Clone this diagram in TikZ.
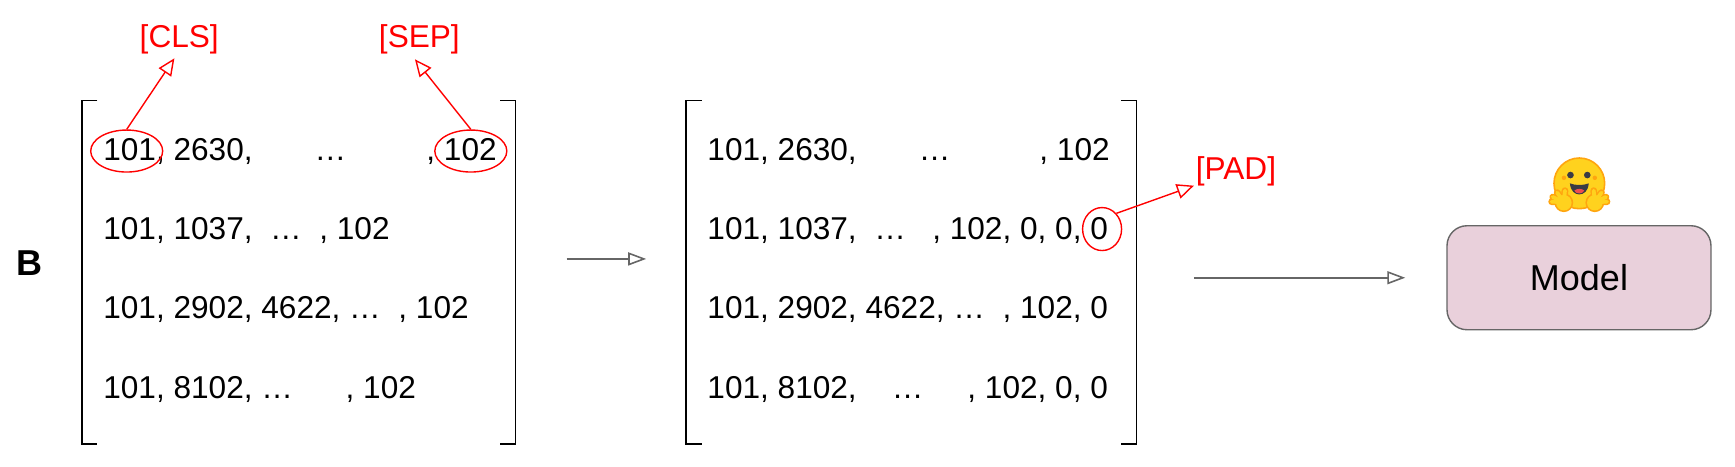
\documentclass[tikz,border=0pt]{standalone}
\usepackage{fontspec}
\setmainfont{Liberation Sans}
\usepackage{xcolor}
\usepackage{tikz}
\usetikzlibrary{positioning,arrows.meta,shapes.geometric}
\definecolor{modelfill}{HTML}{E9D0DB}
\definecolor{linegray}{HTML}{666666}
\definecolor{hugyellow}{HTML}{FFD21E}
\definecolor{hugorange}{HTML}{FFA50F}
\definecolor{hugdark}{HTML}{3A3B45}
\definecolor{hugtongue}{HTML}{EF4E4E}
\tikzset{
  rowlabel/.style={anchor=base west,inner sep=0pt,font=\fontsize{15.8pt}{18pt}\selectfont},
  redlabel/.style={red,anchor=base,inner sep=0pt,font=\fontsize{15.8pt}{18pt}\selectfont},
  redring/.style={draw=red,ellipse,inner sep=0pt,line width=0.7pt},
  redarrow/.style={draw=red,line width=0.7pt,-{Triangle[open,length=8.5pt,width=7.5pt]}},
  grayarrow/.style={draw=linegray,line width=0.8pt,-{Triangle[open,length=9pt,width=6.5pt]}},
  bracketline/.style={black,line width=0.8pt}
}
\begin{document}
\begin{tikzpicture}[x=0.5533pt,y=-0.5533pt]
\useasboundingbox (0,0) rectangle (1568,422);
\node[anchor=base west,inner sep=0pt,font=\fontsize{18pt}{20pt}\selectfont\bfseries] (panel) at (15,249) {B};
% left matrix
\draw[bracketline] (88,91) -- (74,91) -- (74,401) -- (88,401);
\draw[bracketline] (452,91) -- (466,91) -- (466,401) -- (452,401);
\node[rowlabel] (a1) at (93,145) {101, 2630,};
\node[rowlabel] (a1dots) at (284,145) {…};
\node[rowlabel] (a1end) at (385,145) {, 102};
\node[rowlabel] (a2) at (93,216) {101, 1037,\ \ …\ \ , 102};
\node[rowlabel] (a3) at (93,288) {101, 2902, 4622, …\ \ , 102};
\node[rowlabel] (a4) at (93,360) {101, 8102, …\ \ \ \ \ \ , 102};
% right matrix
\draw[bracketline] (634,91) -- (620,91) -- (620,401) -- (634,401);
\draw[bracketline] (1013,91) -- (1027,91) -- (1027,401) -- (1013,401);
\node[rowlabel] (b1) at (639,145) {101, 2630,};
\node[rowlabel] (b1dots) at (830,145) {…};
\node[rowlabel] (b1end) at (939,145) {, 102};
\node[rowlabel] (b2) at (639,216) {101, 1037,\ \ …\ \ \ , 102, 0, 0, 0};
\node[rowlabel] (b3) at (639,288) {101, 2902, 4622, …\ \ , 102, 0};
\node[rowlabel] (b4) at (639,360) {101, 8102,\ \ \ \ …\ \ \ \ \ , 102, 0, 0};
% red marks
\node[redring,minimum width=36pt,minimum height=21pt] (cls) at (114.5,136.5) {};
\node[redring,minimum width=36pt,minimum height=21pt] (sep) at (425.5,136.5) {};
\node[redring,minimum width=19.5pt,minimum height=21.5pt] (pad) at (996,207) {};
\node[redlabel] (clstext) at (162,43) {[CLS]};
\node[redlabel] (septext) at (379,43) {[SEP]};
\node[redlabel] (padtext) at (1117,162) {[PAD]};
\coordinate (clstip) at (157.6,52.7);
\coordinate (septip) at (375,53.6);
\coordinate (padtip) at (1079,167.8);
\draw[redarrow] (cls.north) -- (clstip);
\draw[redarrow] (sep.north) -- (septip);
\draw[redarrow] (pad.north east) -- (padtip);
% model
\node[draw=linegray,fill=modelfill,rounded corners=10pt,minimum width=132pt,minimum height=52pt,inner sep=0pt,line width=0.7pt,font=\fontsize{18pt}{20pt}\selectfont] (model) at (1427,251) {Model};
% hugging face icon
\begin{scope}[shift={(1427.3,165.7)}]
\filldraw[fill=hugyellow,draw=hugorange,line width=0.8pt] (0,0) circle (22.9);
\fill[hugorange] (-13.9,-5) circle (2) (14,-5) circle (2);
\fill[hugdark] (-8,-7.5) circle (3) (7.2,-7.5) circle (3);
\fill[hugdark] (-8.5,0) .. controls (-4,2) and (4,2) .. (8.5,0) .. controls (8,7) and (4,10) .. (0,10) .. controls (-4,10) and (-8,7) .. (-8.5,0) -- cycle;
\fill[hugtongue] (-4.5,6.5) .. controls (-2,4.5) and (2,4.5) .. (4.5,6.5) .. controls (3,10) and (-3,10) .. (-4.5,6.5) -- cycle;
\foreach \sx in {-1,1}{
  \begin{scope}[xscale=\sx]
  \fill[hugorange] (-14,17.5) circle (8.5);
  \foreach \fx/\fy in {-25/16.6,-24/12.4,-20/8.4,-13/6.6}
    \draw[hugorange,line width=3.4pt,line cap=round] (-14,17) -- (\fx,\fy);
  \fill[hugyellow] (-14,17.5) circle (7);
  \foreach \fx/\fy in {-25/16.6,-24/12.4,-20/8.4,-13/6.6}
    \draw[hugyellow,line width=1.9pt,line cap=round] (-14,17) -- (\fx,\fy);
  \end{scope}
}
\end{scope}
\coordinate (s1) at (512,234);
\coordinate (e1) at (584,234);
\coordinate (s2) at (1079,251);
\coordinate (e2) at (1270,251);
\draw[grayarrow] (s1) -- (e1);
\draw[grayarrow] (s2) -- (e2);
\end{tikzpicture}
\end{document}
